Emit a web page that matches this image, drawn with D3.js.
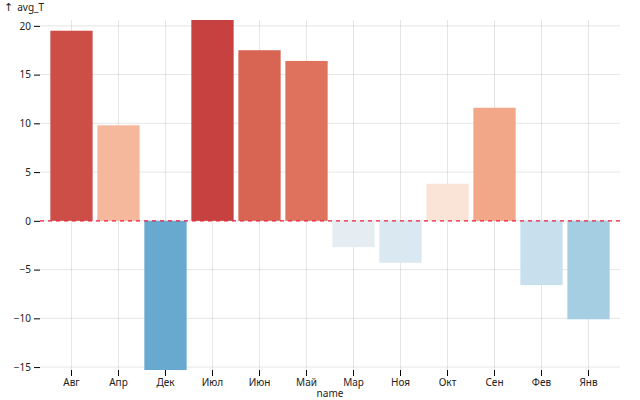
<!DOCTYPE html>
<html>
<head>
<meta charset="utf-8">
<script src="https://cdn.jsdelivr.net/npm/d3@7"></script>
<style>
  body { margin: 0; background: #fff; }
  svg { font-family: "Noto Sans", sans-serif; font-size: 10px; }
</style>
</head>
<body>
<div id="chart"></div>
<script>
// month names (sorted as in the source) and average temperature
const names = ["Авг", "Апр", "Дек", "Июл", "Июн", "Май", "Мар", "Ноя", "Окт", "Сен", "Фев", "Янв"];
const avgT = [19.5, 9.8, -15.3, 20.6, 17.5, 16.4, -2.7, -4.3, 3.8, 11.6, -6.6, -10.1];
const yTicks = [-15, -10, -5, 0, 5, 10, 15, 20];

const data = names.map((n, i) => ({name: n, avg_T: avgT[i]}));

const margin = {top: 20, right: 20, bottom: 30, left: 40},
    width = 640,
    height = 400;

const x = d3.scaleBand()
  .domain(names)
  .range([margin.left, width - margin.right])
  .paddingInner(0.1)
  .paddingOuter(0.22);

const y = d3.scaleLinear()
  .domain(d3.extent(avgT))
  .range([height - margin.bottom, margin.top]);

// diverging colour, red for warm, blue for cold
const color = d3.scaleDiverging(d3.interpolateRdBu)
  .domain([30, 0, -30]);

const svg = d3.select("#chart")
  .append("svg")
  .attr("width", width)
  .attr("height", height);

// grid
svg.append("g")
  .attr("stroke", "#000")
  .attr("stroke-opacity", 0.1)
  .selectAll("line.gx")
  .data(names)
  .join("line")
  .attr("x1", d => x(d) + x.bandwidth() / 2)
  .attr("x2", d => x(d) + x.bandwidth() / 2)
  .attr("y1", margin.top)
  .attr("y2", height - margin.bottom);

svg.append("g")
  .attr("stroke", "#000")
  .attr("stroke-opacity", 0.1)
  .selectAll("line.gy")
  .data(yTicks)
  .join("line")
  .attr("x1", margin.left)
  .attr("x2", width - margin.right)
  .attr("y1", d => y(d))
  .attr("y2", d => y(d));

// bars
svg.append("g")
  .selectAll("rect")
  .data(data)
  .join("rect")
  .attr("x", d => x(d.name))
  .attr("width", x.bandwidth())
  .attr("y", d => y(Math.max(0, d.avg_T)))
  .attr("height", d => Math.abs(y(d.avg_T) - y(0)))
  .attr("fill", d => color(d.avg_T));

// zero rule
svg.append("line")
  .attr("x1", margin.left)
  .attr("x2", width - margin.right)
  .attr("y1", y(0))
  .attr("y2", y(0))
  .attr("stroke", "#e8203f")
  .attr("stroke-width", 1.2)
  .attr("stroke-dasharray", "4,4");

// y axis
const yAxis = svg.append("g")
  .attr("transform", "translate(" + margin.left + ",0)")
  .call(d3.axisLeft(y).tickValues(yTicks).tickSize(6).tickPadding(3));
yAxis.select(".domain").remove();
yAxis.selectAll("text").attr("fill", "#222").style("font-size", "10px").style("font-family", "'Noto Sans', sans-serif");

const yLabel = svg.append("text")
  .attr("x", 4)
  .attr("y", 11)
  .attr("fill", "#222");
yLabel.append("tspan")
  .style("font-family", "'DejaVu Sans', sans-serif")
  .style("font-size", "11px")
  .text("↑");
yLabel.append("tspan")
  .attr("dx", 4)
  .text("avg_T");

// x axis
const xAxis = svg.append("g")
  .attr("transform", "translate(0," + (height - margin.bottom) + ")")
  .call(d3.axisBottom(x).tickSize(6).tickPadding(3));
xAxis.select(".domain").remove();
xAxis.selectAll("text").attr("fill", "#222").style("font-size", "10px").style("font-family", "'Noto Sans', sans-serif");

svg.append("text")
  .attr("x", (margin.left + width - margin.right) / 2)
  .attr("y", height - 3)
  .attr("text-anchor", "middle")
  .attr("fill", "#222")
  .text("name");
</script>
</body>
</html>
